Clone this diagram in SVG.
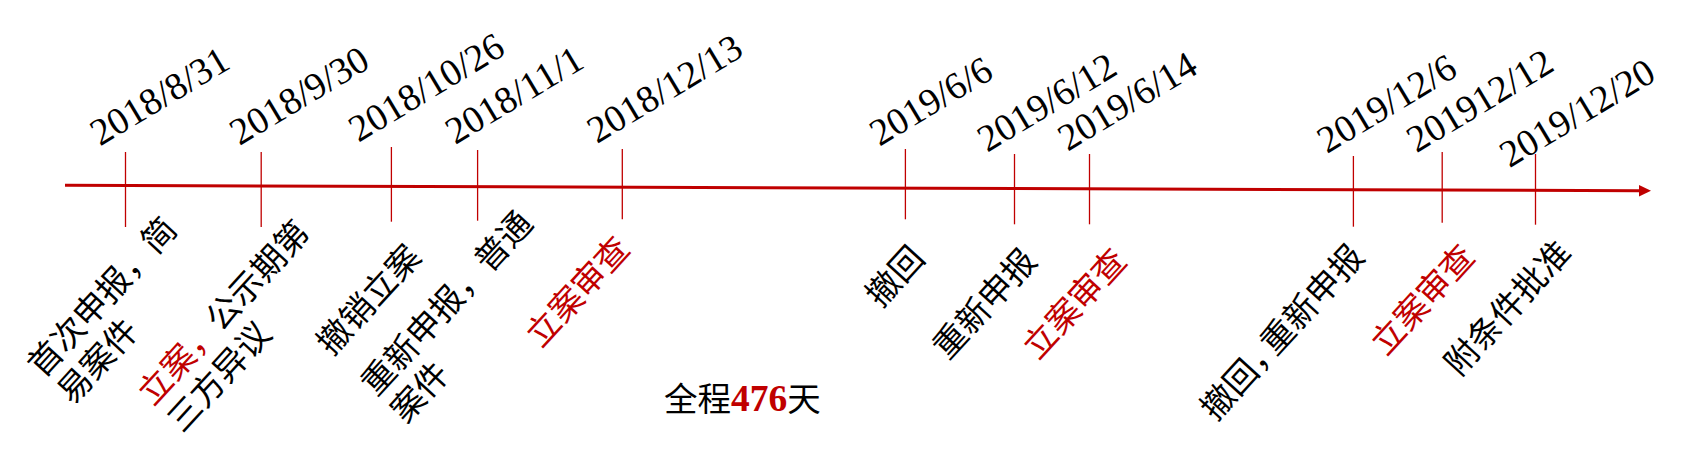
<svg xmlns="http://www.w3.org/2000/svg" width="1700" height="462" viewBox="0 0 1700 462">
<style>
.date{font-family:"Liberation Serif","Times New Roman",serif;font-size:38px;fill:#000}
.cn{font-family:"Noto Sans CJK SC","Noto Sans CJK JP",sans-serif;font-size:33.5px;fill:#000}
.red{fill:#C00000}
.tick{stroke:#C00000;stroke-width:1.3;fill:none}
.axis{stroke:#C00000;stroke-width:3;fill:none}
.num{font-family:"Liberation Serif","Times New Roman",serif;font-weight:bold;fill:#C00000}
</style>
<defs>
<marker id="arr" markerUnits="userSpaceOnUse" markerWidth="13" markerHeight="12" refX="0" refY="5.7" orient="auto">
<path d="M0,0 L12,5.7 L0,11.4 z" fill="#C00000"/>
</marker>
</defs>
<rect width="1700" height="462" fill="#fff"/>
<g id="connectors">
<line class="axis" x1="65" y1="185.3" x2="1639" y2="190.7" marker-end="url(#arr)"/>
<line class="tick" x1="125.5" y1="152" x2="125.5" y2="227"/>
<line class="tick" x1="261.2" y1="152" x2="261.2" y2="227"/>
<line class="tick" x1="391.4" y1="147" x2="391.4" y2="221.7"/>
<line class="tick" x1="477.6" y1="150" x2="477.6" y2="220.7"/>
<line class="tick" x1="622.3" y1="149" x2="622.3" y2="219.3"/>
<line class="tick" x1="905.4" y1="149" x2="905.4" y2="219.3"/>
<line class="tick" x1="1014.5" y1="154" x2="1014.5" y2="224.3"/>
<line class="tick" x1="1089.5" y1="154" x2="1089.5" y2="224.3"/>
<line class="tick" x1="1353.4" y1="156" x2="1353.4" y2="226.7"/>
<line class="tick" x1="1442.2" y1="152" x2="1442.2" y2="222.7"/>
<line class="tick" x1="1535.5" y1="154" x2="1535.5" y2="224.7"/>
</g>
<g id="e1">
<text class="date" transform="translate(100,146.5) rotate(-31)">2018/8/31</text>
<text class="cn" transform="translate(43,379) rotate(-47.5)"><tspan x="0" y="0">首次申报，简</tspan><tspan x="0" y="40">易案件</tspan></text>
</g>
<g id="e2">
<text class="date" transform="translate(239.6,146) rotate(-31)">2018/9/30</text>
<text class="cn" transform="translate(153,407) rotate(-47.5)"><tspan x="0" y="0"><tspan class="red">立案，</tspan>公示期第</tspan><tspan x="0" y="40">三方异议</tspan></text>
</g>
<g id="e3">
<text class="date" transform="translate(358.6,142.7) rotate(-31)">2018/10/26</text>
<text class="cn" transform="translate(332,357) rotate(-47.5)">撤销立案</text>
</g>
<g id="e4">
<text class="date" transform="translate(455.2,145) rotate(-31)">2018/11/1</text>
<text class="cn" transform="translate(376.3,397.6) rotate(-47.5)"><tspan x="0" y="0">重新申报，普通</tspan><tspan x="0" y="40">案件</tspan></text>
</g>
<g id="e5">
<text class="date" transform="translate(597,144) rotate(-31)">2018/12/13</text>
<text class="cn red" transform="translate(541,349) rotate(-47.5)">立案审查</text>
</g>
<g id="e6">
<text class="date" transform="translate(879.4,146.7) rotate(-31)">2019/6/6</text>
<text class="cn" transform="translate(881,309) rotate(-47.5)">撤回</text>
</g>
<g id="e7">
<text class="date" transform="translate(987.3,152.7) rotate(-31)">2019/6/12</text>
<text class="cn" transform="translate(948,361) rotate(-47.5)">重新申报</text>
</g>
<g id="e8">
<text class="date" transform="translate(1067.7,151.7) rotate(-31)">2019/6/14</text>
<text class="cn red" transform="translate(1038,361) rotate(-47.5)">立案审查</text>
</g>
<g id="e9">
<text class="date" transform="translate(1327.1,154) rotate(-31)">2019/12/6</text>
<text class="cn" transform="translate(1215.7,422.2) rotate(-47.5)">撤回，<tspan dx="-12">重新申报</tspan></text>
</g>
<g id="e10">
<text class="date" transform="translate(1416.6,153.3) rotate(-31)">201912/12</text>
<text class="cn red" transform="translate(1386,357) rotate(-47.5)">立案审查</text>
</g>
<g id="e11">
<text class="date" transform="translate(1509.5,168.3) rotate(-31)">2019/12/20</text>
<text class="cn" transform="translate(1459.7,377.6) rotate(-47.5)">附条件批准</text>
</g>
<g id="total">
<text x="664" y="410.5" font-size="37.5"><tspan class="cn" font-size="37.5">全程</tspan><tspan class="num" font-size="37.5">476</tspan><tspan class="cn" font-size="37.5">天</tspan></text>
</g>
</svg>
